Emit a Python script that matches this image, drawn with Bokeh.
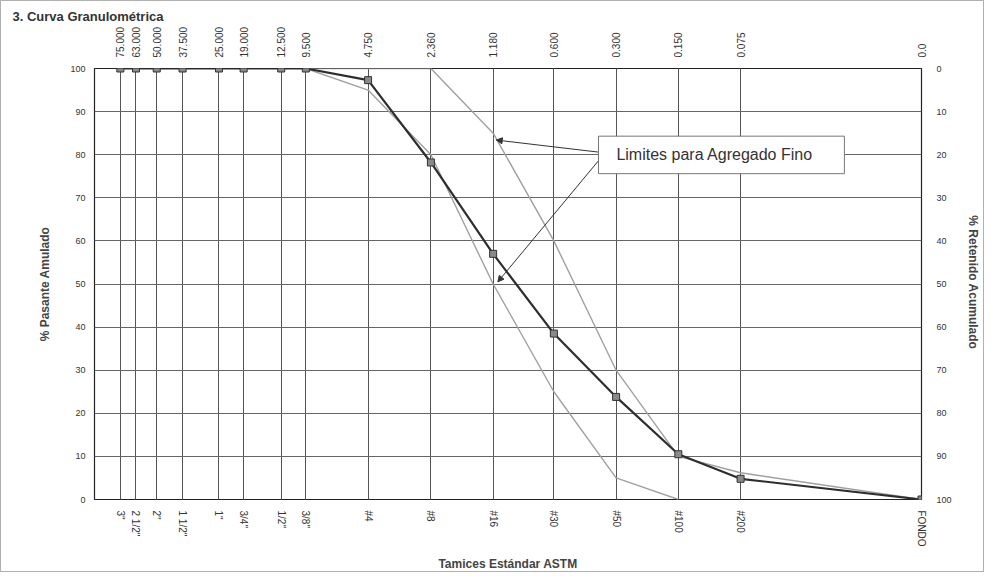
from bokeh.plotting import figure
from bokeh.models import (Range1d, LinearAxis, LogAxis, FixedTicker, Arrow, NormalHead,
                          Label, BoxAnnotation, CustomJSTickFormatter)
from bokeh.embed import file_html
from bokeh.resources import INLINE

# ---- data ----
sieve_labels = ['3"', '2 1/2"', '2"', '1 1/2"', '1"', '3/4"', '1/2"', '3/8"',
                '#4', '#8', '#16', '#30', '#50', '#100', '#200', 'FONDO']
sieve_mm = [75, 63, 50, 37.5, 25, 19, 12.5, 9.5, 4.75, 2.36, 1.18, 0.6, 0.3, 0.15, 0.075, 0.01]
mm_labels = ["75.000", "63.000", "50.000", "37.500", "25.000", "19.000", "12.500", "9.500",
             "4.750", "2.360", "1.180", "0.600", "0.300", "0.150", "0.075", "0.0"]
pasante = [100, 100, 100, 100, 100, 100, 100, 100, 97.3, 78.2, 57.0, 38.5, 23.8, 10.5, 4.8, 0.0]

upper_mm = [9.5, 4.75, 2.36, 1.18, 0.6, 0.3, 0.15, 0.075, 0.01]
upper_val = [100, 100, 100, 85, 60, 30, 10, 6.2, 0]
lower_mm = [9.5, 4.75, 2.36, 1.18, 0.6, 0.3, 0.15]
lower_val = [100, 95, 80, 50, 25, 5, 0]

y_ticks = [0, 10, 20, 30, 40, 50, 60, 70, 80, 90, 100]
annot_text = "Limites para Agregado Fino"
chart_title = "3. Curva Granulométrica"

FONT = "Liberation Sans"

p = figure(width=984, height=572, x_axis_type="log",
           x_range=Range1d(100, 0.01), y_range=Range1d(0, 100),
           output_backend="svg", toolbar_location=None,
           min_border_left=93, min_border_right=64, min_border_top=67, min_border_bottom=72)
p.styles = {"border": "1px solid #b0b0b0"}
p.outline_line_color = "#222222"
p.outline_line_width = 1.2

# chart title at the top-left corner
p.title.text = chart_title
p.title.align = "left"
p.title.offset = -82
p.title.text_font = FONT
p.title.text_font_size = "13px"
p.title.text_font_style = "bold"
p.title.text_color = "#333333"
p.title.standoff = 0

JS = """
let b = 0;
for (let i = 0; i < t.length; i++) {
  if (Math.abs(Math.log(t[i]) - Math.log(tick)) < Math.abs(Math.log(t[b]) - Math.log(tick))) b = i;
}
return l[b];
"""
fmt_bottom = CustomJSTickFormatter(args=dict(t=sieve_mm, l=sieve_labels), code=JS)
fmt_top = CustomJSTickFormatter(args=dict(t=sieve_mm, l=mm_labels), code=JS)


def no_ticks(ax):
    ax.major_tick_out = 0
    ax.major_tick_in = 0
    ax.minor_tick_out = 0
    ax.minor_tick_in = 0
    ax.axis_line_color = None
    ax.major_label_text_font = FONT
    ax.major_label_text_color = "#333333"


# bottom axis
xa = p.xaxis[0]
no_ticks(xa)
xa.ticker = FixedTicker(ticks=sieve_mm)
xa.formatter = fmt_bottom
xa.major_label_orientation = "vertical"
xa.major_label_text_font_size = "10px"
xa.major_label_standoff = 11
xa.axis_label = "Tamices Estándar ASTM"
xa.axis_label_text_font = FONT
xa.axis_label_text_font_style = "bold"
xa.axis_label_text_font_size = "12px"
xa.axis_label_standoff = 7

# top axis
ta = LogAxis(ticker=FixedTicker(ticks=sieve_mm), formatter=fmt_top)
no_ticks(ta)
ta.major_label_orientation = "vertical"
ta.major_label_text_font_size = "10px"
ta.major_label_standoff = 11
p.add_layout(ta, "above")

# left axis
ya = p.yaxis[0]
no_ticks(ya)
ya.ticker = FixedTicker(ticks=y_ticks)
ya.major_label_text_font_size = "9px"
ya.major_label_standoff = 9
ya.axis_label = "% Pasante Amulado"
ya.axis_label_text_font = FONT
ya.axis_label_text_font_style = "bold"
ya.axis_label_text_font_size = "12px"
ya.axis_label_standoff = 15

# right axis (retained, reversed)
p.extra_y_ranges = {"ret": Range1d(100, 0)}
ra = LinearAxis(y_range_name="ret", ticker=FixedTicker(ticks=y_ticks))
no_ticks(ra)
ra.major_label_text_font_size = "9px"
ra.major_label_standoff = 15
ra.axis_label = "% Retenido  Acumulado"
ra.axis_label_text_font = FONT
ra.axis_label_text_font_style = "bold"
ra.axis_label_text_font_size = "12px"
ra.axis_label_standoff = 11
p.add_layout(ra, "right")

# grids
p.xgrid[0].ticker = FixedTicker(ticks=sieve_mm)
p.xgrid[0].grid_line_color = "#555555"
p.xgrid[0].grid_line_width = 1
p.ygrid[0].ticker = FixedTicker(ticks=y_ticks[1:-1])
p.ygrid[0].grid_line_color = "#666666"
p.ygrid[0].grid_line_width = 1

# limit curves
p.line(upper_mm, upper_val, line_color="#a0a0a0", line_width=1.4)
p.line(lower_mm, lower_val, line_color="#a0a0a0", line_width=1.4)

# main curve
p.line(sieve_mm, pasante, line_color="#2e2e2e", line_width=2.2)
p.scatter(sieve_mm, pasante, marker="square", size=7, fill_color="#8a8a8a",
          line_color="#333333", line_width=1)

# annotation box + arrows
BOX_L, BOX_R, BOX_T, BOX_B = 0.365, 0.0236, 84.3, 75.6
p.add_layout(Arrow(end=NormalHead(size=6, fill_color="#333333", line_color="#333333"),
                   x_start=0.365, y_start=80.6, x_end=1.14, y_end=83.4,
                   line_color="#333333", line_width=1))
p.add_layout(Arrow(end=NormalHead(size=6, fill_color="#333333", line_color="#333333"),
                   x_start=0.365, y_start=78.6, x_end=1.12, y_end=50.5,
                   line_color="#333333", line_width=1))
p.add_layout(BoxAnnotation(left=BOX_L, right=BOX_R, top=BOX_T, bottom=BOX_B,
                           fill_color="white", fill_alpha=1.0,
                           line_color="#777777", line_width=1, line_alpha=1.0))
p.add_layout(Label(x=0.299, y=80, text=annot_text, text_baseline="middle",
                   text_font=FONT, text_font_size="16px", text_color="#333333"))

open("out.html", "w").write(file_html(p, INLINE))
